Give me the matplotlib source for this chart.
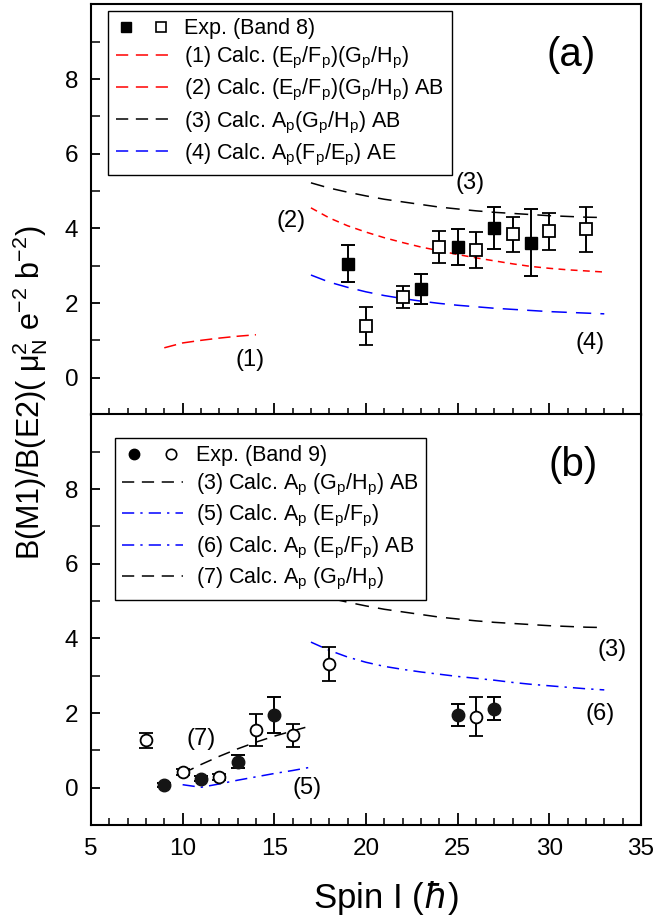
import numpy as np
import matplotlib
matplotlib.use('Agg')
import matplotlib.pyplot as plt
from matplotlib.lines import Line2D
from matplotlib.legend_handler import HandlerTuple
from matplotlib.ticker import MultipleLocator

plt.rcParams['font.family'] = ['Liberation Sans', 'DejaVu Sans']
plt.rcParams['mathtext.default'] = 'regular'
plt.rcParams['mathtext.fontset'] = 'dejavusans'

# ---- panel (a) data: Band 8 ----
a_full_x = [19, 23, 25, 27, 29]
a_full_y = [3.05, 2.38, 3.5, 4.0, 3.62]
a_full_err = [0.5, 0.4, 0.48, 0.56, 0.9]
a_open_x = [20, 22, 24, 26, 28, 30, 32]
a_open_y = [1.38, 2.16, 3.5, 3.42, 3.84, 3.92, 3.97]
a_open_err = [0.5, 0.3, 0.42, 0.48, 0.47, 0.5, 0.6]

c1_x = [9, 10, 11, 12, 13, 14]
c1_y = [0.8, 0.93, 1.0, 1.06, 1.11, 1.15]
cx = list(range(17, 34))
c2_y = [4.55, 4.28, 4.07, 3.9, 3.75, 3.62, 3.5, 3.4, 3.3, 3.21, 3.13, 3.05, 2.98, 2.93, 2.89, 2.86, 2.83]
c3_y = [5.22, 5.08, 4.97, 4.87, 4.78, 4.71, 4.64, 4.57, 4.52, 4.47, 4.43, 4.4, 4.37, 4.34, 4.32, 4.3, 4.29]
c4_y = [2.75, 2.56, 2.42, 2.3, 2.2, 2.12, 2.05, 1.99, 1.94, 1.9, 1.86, 1.83, 1.8, 1.77, 1.75, 1.73, 1.71]

# ---- panel (b) data: Band 9 ----
b_full_x = [9, 11, 13, 15, 25, 27]
b_full_y = [0.07, 0.24, 0.7, 1.94, 1.95, 2.12]
b_full_err = [0.05, 0.06, 0.18, 0.48, 0.3, 0.32]
b_open_x = [8, 10, 12, 14, 16, 18, 26]
b_open_y = [1.27, 0.41, 0.29, 1.55, 1.4, 3.31, 1.9]
b_open_err = [0.2, 0.08, 0.08, 0.42, 0.3, 0.45, 0.52]

c5_x = [10, 11, 12, 13, 14, 15, 16, 17]
c5_y = [0.08, 0.01, 0.1, 0.2, 0.29, 0.38, 0.46, 0.55]
c6_y = [3.9, 3.68, 3.5, 3.36, 3.25, 3.17, 3.1, 3.04, 2.98, 2.93, 2.88, 2.82, 2.77, 2.73, 2.69, 2.65, 2.62]
c7_x = [10, 11, 12, 13, 14, 15, 16, 16.8]
c7_y = [0.38, 0.62, 0.84, 1.04, 1.22, 1.38, 1.52, 1.63]

RED = '#ff0000'
BLUE = '#0000ff'

fig = plt.figure(figsize=(6.59, 9.22), dpi=100)
ax1 = fig.add_axes([0.138, 0.5499, 0.8346, 0.4453])
ax2 = fig.add_axes([0.138, 0.1052, 0.8346, 0.4453])

for ax in (ax1, ax2):
    ax.set_xlim(5, 35)
    ax.set_ylim(-1, 10)
    ax.xaxis.set_major_locator(MultipleLocator(5))
    ax.xaxis.set_minor_locator(MultipleLocator(1))
    ax.yaxis.set_minor_locator(MultipleLocator(1))
    ax.set_yticks([0, 2, 4, 6, 8])
    ax.tick_params(axis='x', which='major', direction='in', length=8.5, width=1.3,
                   labelsize=17.5, pad=9, top=False)
    ax.tick_params(axis='x', which='minor', direction='in', length=5, width=1.1, top=False)
    ax.tick_params(axis='y', which='major', direction='in', length=6.5, width=1.3,
                   labelsize=17.5, pad=9, right=False)
    ax.tick_params(axis='y', which='minor', direction='in', length=6.5, width=1.1, right=False)
    for sp in ax.spines.values():
        sp.set_linewidth(1.5)

ax1.tick_params(axis='x', labelbottom=False)

err_kw = dict(ls='none', ecolor='black', elinewidth=1.4, capsize=5, capthick=1.4, zorder=5)

# panel (a)
ax1.plot(c1_x, c1_y, color=RED, lw=1.1, dashes=(8, 4))
ax1.plot(cx, c2_y, color=RED, lw=1.1, dashes=(4.5, 3.5))
ax1.plot(cx, c3_y, color='black', lw=1.1, dashes=(9, 6))
ax1.plot(cx, c4_y, color=BLUE, lw=1.1, dashes=(10, 6))
ax1.errorbar(a_open_x, a_open_y, yerr=a_open_err, marker='s', ms=8, mfc='white',
             mec='black', mew=1.3, **err_kw)
ax1.errorbar(a_full_x, a_full_y, yerr=a_full_err, marker='s', ms=8.5, mfc='black',
             mec='black', **err_kw)

hf = Line2D([], [], ls='none', marker='s', ms=7, mfc='black', mec='black')
ho = Line2D([], [], ls='none', marker='s', ms=7, mfc='white', mec='black', mew=1.2)
h1 = Line2D([], [], color=RED, lw=1.1, dashes=(8, 5))
h2 = Line2D([], [], color=RED, lw=1.1, dashes=(8, 5))
h3 = Line2D([], [], color='black', lw=1.1, dashes=(8, 5))
h4 = Line2D([], [], color=BLUE, lw=1.1, dashes=(8, 5))
leg1 = ax1.legend([(hf, ho), h1, h2, h3, h4],
                  ['Exp. (Band 8)',
                   '(1) Calc. (E$_p$/F$_p$)(G$_p$/H$_p$)',
                   '(2) Calc. (E$_p$/F$_p$)(G$_p$/H$_p$) AB',
                   '(3) Calc. A$_p$(G$_p$/H$_p$) AB',
                   '(4) Calc. A$_p$(F$_p$/E$_p$) AE'],
                  handler_map={tuple: HandlerTuple(ndivide=None, pad=0.6)},
                  loc='upper left', bbox_to_anchor=(0.031, 0.985), borderaxespad=0,
                  fontsize=15.5, handlelength=2.6, handletextpad=0.6, labelspacing=0.28,
                  borderpad=0.35, fancybox=False, framealpha=1, edgecolor='black')
leg1.get_frame().set_linewidth(1.0)

ax1.text(31.2, 8.65, '(a)', fontsize=29, ha='center', va='center')
ax1.text(25.7, 5.22, '(3)', fontsize=17, ha='center', va='center')
ax1.text(15.9, 4.2, '(2)', fontsize=17, ha='center', va='center')
ax1.text(13.7, 0.47, '(1)', fontsize=17, ha='center', va='center')
ax1.text(32.2, 0.93, '(4)', fontsize=17, ha='center', va='center')

# panel (b)
ax2.plot(cx, c3_y, color='black', lw=1.1, dashes=(9, 6))
ax2.plot(c5_x, c5_y, color=BLUE, lw=1.1, dashes=(8, 4, 1.5, 4))
ax2.plot(cx, c6_y, color=BLUE, lw=1.1, dashes=(8, 4, 1.5, 4))
ax2.plot(c7_x, c7_y, color='black', lw=1.1, dashes=(8, 5))
ax2.errorbar(b_open_x, b_open_y, yerr=b_open_err, marker='o', ms=8.5, mfc='white',
             mec='black', mew=1.3, **err_kw)
ax2.errorbar(b_full_x, b_full_y, yerr=b_full_err, marker='o', ms=9, mfc='#151515',
             mec='#151515', **err_kw)

gf = Line2D([], [], ls='none', marker='o', ms=7.5, mfc='black', mec='black')
go = Line2D([], [], ls='none', marker='o', ms=7.5, mfc='white', mec='black', mew=1.2)
g3 = Line2D([], [], color='black', lw=1.1, dashes=(8, 5))
g5 = Line2D([], [], color=BLUE, lw=1.1, dashes=(8, 4, 1.5, 4))
g6 = Line2D([], [], color=BLUE, lw=1.1, dashes=(8, 4, 1.5, 4))
g7 = Line2D([], [], color='black', lw=1.1, dashes=(8, 5))
leg2 = ax2.legend([(gf, go), g3, g5, g6, g7],
                  ['Exp. (Band 9)',
                   '(3) Calc. A$_p$ (G$_p$/H$_p$) AB',
                   '(5) Calc. A$_p$ (E$_p$/F$_p$)',
                   '(6) Calc. A$_p$ (E$_p$/F$_p$) AB',
                   '(7) Calc. A$_p$ (G$_p$/H$_p$)'],
                  handler_map={tuple: HandlerTuple(ndivide=None, pad=0.6)},
                  loc='upper left', bbox_to_anchor=(0.0436, 0.943), borderaxespad=0,
                  fontsize=15.5, handlelength=2.8, handletextpad=0.6, labelspacing=0.25,
                  borderpad=0.35, fancybox=False, framealpha=1, edgecolor='black')
leg2.get_frame().set_linewidth(1.0)

ax2.text(31.3, 8.64, '(b)', fontsize=29, ha='center', va='center')
ax2.text(33.4, 3.69, '(3)', fontsize=17, ha='center', va='center')
ax2.text(32.8, 1.97, '(6)', fontsize=17, ha='center', va='center')
ax2.text(11.0, 1.3, '(7)', fontsize=17, ha='center', va='center')
ax2.text(16.8, -0.02, '(5)', fontsize=17, ha='center', va='center')

fig.text(386 / 659, 1 - 898 / 922, r'Spin I ($\mathit{\hbar}$)', fontsize=25,
         ha='center', va='center')
fig.text(30 / 659, 1 - 560 / 922, r'B(M1)/B(E2)( $\mu_N^2$ e$^{-2}$ b$^{-2}$)',
         fontsize=22, rotation=90, ha='center', va='bottom')

fig.savefig('out.png', dpi=100)
